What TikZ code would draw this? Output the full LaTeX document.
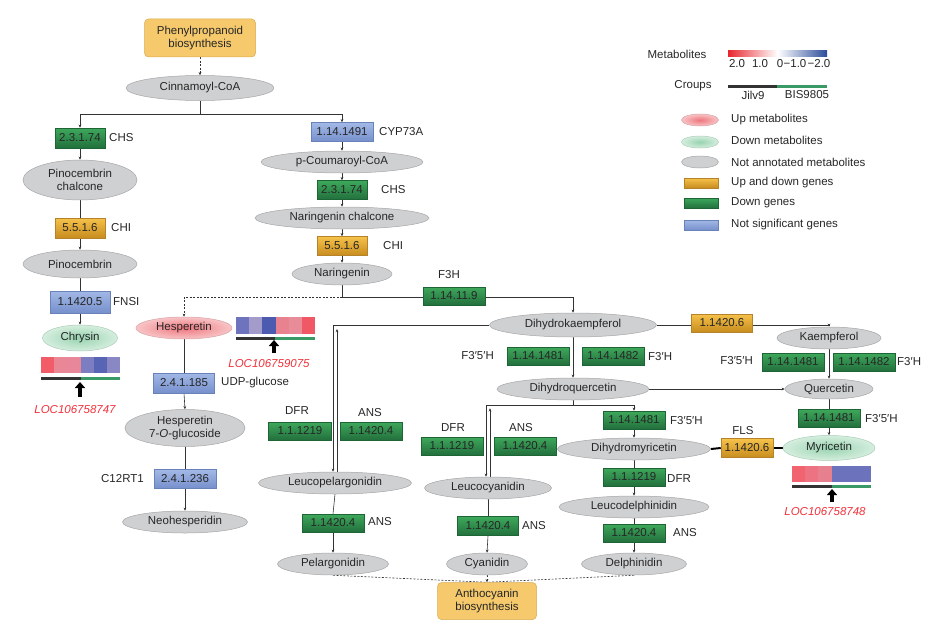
\documentclass[tikz,border=0pt]{standalone}
\usepackage{fontspec}
\setmainfont{Liberation Sans}
\usetikzlibrary{shapes.geometric,arrows.meta,calc}
\pgfdeclarelayer{bg}
\pgfsetlayers{bg,main}
\definecolor{txt}{HTML}{262626}
\definecolor{linec}{HTML}{333333}
\definecolor{metfill}{HTML}{CFD0D2}
\definecolor{metdraw}{HTML}{A6A6A8}
\definecolor{upin}{HTML}{EE767E}
\definecolor{upout}{HTML}{F8C4C6}
\definecolor{updraw}{HTML}{D9A2A4}
\definecolor{dnin}{HTML}{98D3B0}
\definecolor{dnout}{HTML}{D5EEDE}
\definecolor{dndraw}{HTML}{A9CDB7}
\definecolor{ggt}{HTML}{3EA85C}
\definecolor{ggb}{HTML}{22703C}
\definecolor{ggd}{HTML}{1E6535}
\definecolor{ogt}{HTML}{F6C24A}
\definecolor{ogb}{HTML}{C78C1E}
\definecolor{ogd}{HTML}{B5842A}
\definecolor{bgt}{HTML}{A2B8E6}
\definecolor{bgb}{HTML}{7690CC}
\definecolor{bgd}{HTML}{6A82BA}
\definecolor{pfill}{HTML}{F5C96C}
\definecolor{pdraw}{HTML}{D9AA50}
\definecolor{locred}{HTML}{F0303A}
\definecolor{barblack}{HTML}{333333}
\definecolor{bargreen}{HTML}{3A9A66}
\definecolor{scred}{HTML}{E8262E}
\definecolor{scblue}{HTML}{2B4C9A}
\tikzset{
  every node/.style={font=\fontsize{11.5}{13.5}\selectfont, text=txt},
  met/.style={ellipse, draw=metdraw, fill=metfill, inner sep=0pt, line width=0.5pt},
  upm/.style={ellipse, draw=updraw, inner color=upin, outer color=upout, inner sep=0pt, line width=0.5pt},
  dnm/.style={ellipse, draw=dndraw, inner color=dnin, outer color=dnout, inner sep=0pt, line width=0.5pt},
  gene/.style={rectangle, inner sep=0pt, line width=0.5pt},
  ggene/.style={gene, draw=ggd, top color=ggt, bottom color=ggb},
  ogene/.style={gene, draw=ogd, top color=ogt, bottom color=ogb},
  bgene/.style={gene, draw=bgd, top color=bgt, bottom color=bgb},
  pbox/.style={rectangle, rounded corners=4pt, draw=pdraw, fill=pfill, inner sep=0pt, align=center, line width=0.5pt},
  lab/.style={inner sep=0pt},
  loc/.style={inner sep=0pt, text=locred, font=\fontsize{11.5}{13.5}\selectfont\itshape},
  con/.style={draw=linec, line width=0.6pt},
  arr/.style={con, -{Stealth[length=3.2pt,width=2.8pt]}},
  dsh/.style={con, dash pattern=on 2pt off 1.5pt},
  dsharr/.style={dsh, -{Stealth[length=3.2pt,width=2.8pt]}},
  thick con/.style={draw=black, line width=2pt},
  uparrow/.style={draw=black, line width=3.2pt, -{Triangle[length=6pt,width=10pt]}},
}
\begin{document}
\begin{tikzpicture}[x=1pt,y=-1pt]
\useasboundingbox (0,0) rectangle (931,634);

% ---------- top and left chain ----------
\node[pbox, minimum width=111, minimum height=38] (phe) at (200,38) {Phenylpropanoid\\biosynthesis};
\node[met, minimum width=148, minimum height=25] (cin) at (200,88) {Cinnamoyl-CoA};
\node[ggene, minimum width=50, minimum height=20] (chs1) at (80,138) {2.3.1.74};
\node[lab, anchor=west] (chs1l) at (109,138) {CHS};
\node[met, minimum width=114, minimum height=40, align=center] (pcc) at (80,180) {Pinocembrin\\chalcone};
\node[ogene, minimum width=50, minimum height=20] (chi1) at (80,228) {5.5.1.6};
\node[lab, anchor=west] (chi1l) at (111,228) {CHI};
\node[met, minimum width=114, minimum height=28] (pin) at (80,264) {Pinocembrin};
\node[bgene, minimum width=60, minimum height=22] (fnsi) at (80,302) {1.1420.5};
\node[lab, anchor=west] (fnsil) at (113,302) {FNSI};
\node[dnm, minimum width=75, minimum height=26] (chr) at (80,338) {Chrysin};
\node[loc] (loc1) at (75,410) {LOC106758747};

% ---------- central chain ----------
\node[bgene, minimum width=62, minimum height=19] (cyp) at (342,132) {1.14.1491};
\node[lab, anchor=west] (cypl) at (379,132) {CYP73A};
\node[met, minimum width=162, minimum height=22] (pco) at (342,162) {p-Coumaroyl-CoA};
\node[ggene, minimum width=50, minimum height=19] (chs2) at (342,190) {2.3.1.74};
\node[lab, anchor=west] (chs2l) at (381,190) {CHS};
\node[met, minimum width=174, minimum height=22] (nch) at (342,218) {Naringenin chalcone};
\node[ogene, minimum width=50, minimum height=19] (chi2) at (342,246) {5.5.1.6};
\node[lab, anchor=west] (chi2l) at (383,246) {CHI};
\node[met, minimum width=100, minimum height=22] (nar) at (342,274) {Naringenin};
\node[lab] (f3hl) at (449,275) {F3H};
\node[ggene, minimum width=62, minimum height=18] (f3h) at (454,296) {1.14.11.9};

% ---------- hesperetin branch ----------
\node[upm, minimum width=96, minimum height=22] (hes) at (184,328) {Hesperetin};
\node[loc] (loc2) at (269,364) {LOC106759075};
\node[bgene, minimum width=61, minimum height=20] (ugt) at (184,383) {2.4.1.185};
\node[lab, anchor=west] (ugtl) at (221,383) {UDP-glucose};
\node[met, minimum width=120, minimum height=37, align=center] (h7g) at (185,428) {Hesperetin\\7-\textit{O}-glucoside};
\node[lab, anchor=east] (crtl) at (144,479) {C12RT1};
\node[bgene, minimum width=62, minimum height=19] (crt) at (185,479) {2.4.1.236};
\node[met, minimum width=125, minimum height=22] (neo) at (185,522) {Neohesperidin};

% ---------- dihydrokaempferol block ----------
\node[met, minimum width=167, minimum height=24] (dhk) at (573,325) {Dihydrokaempferol};
\node[lab, anchor=east] (f35al) at (494,356) {F3′5′H};
\node[ggene, minimum width=62, minimum height=18] (f35a) at (538,356) {1.14.1481};
\node[ggene, minimum width=62, minimum height=18] (f3a) at (613,356) {1.14.1482};
\node[lab, anchor=west] (f3al) at (648,357) {F3′H};
\node[met, minimum width=152, minimum height=22] (dhq) at (573,389) {Dihydroquercetin};

\node[ogene, minimum width=61, minimum height=18] (fls1) at (722,323) {1.1420.6};
\node[met, minimum width=104, minimum height=22] (kae) at (829,338) {Kaempferol};
\node[lab, anchor=east] (f35bl) at (753,361) {F3′5′H};
\node[ggene, minimum width=62, minimum height=18] (f35b) at (793,362) {1.14.1481};
\node[ggene, minimum width=62, minimum height=18] (f3b) at (864,362) {1.14.1482};
\node[lab, anchor=west] (f3bl) at (897,362) {F3′H};
\node[met, minimum width=88, minimum height=20] (que) at (829,389) {Quercetin};
\node[ggene, minimum width=62, minimum height=18] (f35c) at (829,418) {1.14.1481};
\node[lab, anchor=west] (f35cl) at (865,419) {F3′5′H};
\node[dnm, minimum width=92, minimum height=25] (myr) at (829,448) {Myricetin};
\node[loc] (loc3) at (825,512) {LOC106758748};
\node[lab] (flsl) at (743,431) {FLS};
\node[ogene, minimum width=52, minimum height=19] (fls2) at (747,448) {1.1420.6};

% ---------- delphinidin chain ----------
\node[ggene, minimum width=62, minimum height=18] (f35d) at (634,420) {1.14.1481};
\node[lab, anchor=west] (f35dl) at (670,421) {F3′5′H};
\node[met, minimum width=153, minimum height=22] (dhm) at (634,449) {Dihydromyricetin};
\node[ggene, minimum width=62, minimum height=18] (dfr3) at (634,477) {1.1.1219};
\node[lab, anchor=west] (dfr3l) at (667,479) {DFR};
\node[met, minimum width=150, minimum height=22] (ldp) at (634,507) {Leucodelphinidin};
\node[ggene, minimum width=62, minimum height=18] (ans3) at (634,533) {1.1420.4};
\node[lab, anchor=west] (ans3l) at (673,533) {ANS};
\node[met, minimum width=105, minimum height=22] (del) at (634,564) {Delphinidin};

% ---------- pelargonidin chain ----------
\node[lab] (dfr1l) at (297,411) {DFR};
\node[ggene, minimum width=63, minimum height=18] (dfr1) at (300,431) {1.1.1219};
\node[lab] (ans1l) at (370,413) {ANS};
\node[ggene, minimum width=62, minimum height=18] (ans1) at (371,431) {1.1420.4};
\node[met, minimum width=153, minimum height=22] (lpg) at (335,483) {Leucopelargonidin};
\node[ggene, minimum width=62, minimum height=18] (ans1b) at (333,523) {1.1420.4};
\node[lab, anchor=west] (ans1bl) at (368,522) {ANS};
\node[met, minimum width=111, minimum height=22] (pel) at (333,564) {Pelargonidin};

% ---------- cyanidin chain ----------
\node[lab] (dfr2l) at (453,428) {DFR};
\node[ggene, minimum width=62, minimum height=18] (dfr2) at (452,446) {1.1.1219};
\node[lab] (ans2l) at (521,428) {ANS};
\node[ggene, minimum width=62, minimum height=18] (ans2) at (525,446) {1.1420.4};
\node[met, minimum width=127, minimum height=22] (lcy) at (488,488) {Leucocyanidin};
\node[ggene, minimum width=61, minimum height=19] (ans2b) at (488,526) {1.1420.4};
\node[lab, anchor=west] (ans2bl) at (522,526) {ANS};
\node[met, minimum width=81, minimum height=22] (cya) at (487,564) {Cyanidin};
\node[pbox, minimum width=99, minimum height=37] (ant) at (487,601) {Anthocyanin\\biosynthesis};

% ---------- connectors ----------
\begin{pgfonlayer}{bg}
\draw[dsharr] (phe.south) -- (cin.north);
\draw[con] (cin.south) -- ++(0,14) coordinate (cinb);
\draw[arr] (cinb) -| (chs1.north);
\draw[arr] (cinb) -| (cyp.north);
\draw[arr] (chs1.south) -- (pcc.north);
\draw[con] (pcc.south) -- (chi1.north);
\draw[arr] (chi1.south) -- (pin.north);
\draw[con] (pin.south) -- (fnsi.north);
\draw[arr] (fnsi.south) -- (chr.north);

\draw[arr] (cyp.south) -- (pco.north);
\draw[arr] (pco.south) -- (chs2.north);
\draw[arr] (chs2.south) -- (nch.north);
\draw[arr] (nch.south) -- (chi2.north);
\draw[arr] (chi2.south) -- (nar.north);
\draw[con] (nar.south) -- ++(0,12) coordinate (narb);
\draw[arr] (narb) -| (dhk.north);
\draw[dsharr] (narb) -| (hes.north);

\draw[con] (hes.south) -- (ugt.north);
\draw[arr] (ugt.south) -- (h7g.north);
\draw[con] (h7g.south) -- (crt.north);
\draw[arr] (crt.south) -- (neo.north);

\draw[arr] (dhk.south) -- (dhq.north);
\draw[arr] (dhk.east) -| (kae.north);
\draw[arr] (dhq.east) -- (que.west);
\draw[arr] (kae.south) -- (que.north);
\draw[con] (que.south) -- (f35c.north);
\draw[arr] (f35c.south) -- (myr.north);
\draw[thick con] (dhm.east) -- (fls2.west);
\draw[thick con] (fls2.east) -- (myr.west);

\draw[arr] (dhk.west) -| ($(lpg.north)+(-2,0)$);
\draw[arr] ($(lpg.north)+(2,0)$) -- ($(lpg.north |- dhk.west)+(2,4)$);
\draw[con] (lpg.south) -- (ans1b.north);
\draw[arr] (ans1b.south) -- (pel.north);

\draw[con] (dhq.south) -- ++(0,5) coordinate (dhqb);
\draw[arr] (dhqb) -| (f35d.north);
\draw[arr] (dhqb) -| ($(lcy.north)+(-2,0)$);
\draw[arr] ($(lcy.north)+(2,0)$) -- ($(lcy.north |- dhqb)+(2,3)$);
\draw[con] (lcy.south) -- (ans2b.north);
\draw[arr] (ans2b.south) -- (cya.north);

\draw[arr] (f35d.south) -- (dhm.north);
\draw[con] (dhm.south) -- (dfr3.north);
\draw[arr] (dfr3.south) -- (ldp.north);
\draw[con] (ldp.south) -- (ans3.north);
\draw[arr] (ans3.south) -- (del.north);

\draw[dsh] (pel.south) -- (ant.north);
\draw[dsh] (del.south) -- (ant.north);
\draw[dsharr] (cya.south) -- (ant.north);
\end{pgfonlayer}

% ---------- heatmaps ----------
\foreach \c [count=\i from 0] in {F25B68,EA8796,E8879A,7D7EC2,5865B4,8A87C5}{
  \definecolor{hc}{HTML}{\c}\fill[hc] ({41+\i*13.17},357) rectangle ({41+(\i+1)*13.17},373);}
\draw[barblack, line width=3pt] (41,378) -- (80.5,378);
\draw[bargreen, line width=3pt] (80.5,378) -- (120,378);
\draw[uparrow] (80,397) -- (80,382);

\foreach \c [count=\i from 0] in {6D73BC,A39CCB,4C5BB0,E8828F,E98C9A,EF5864}{
  \definecolor{hc}{HTML}{\c}\fill[hc] ({236+\i*13.17},317) rectangle ({236+(\i+1)*13.17},334);}
\draw[barblack, line width=3pt] (236,338) -- (275,338);
\draw[bargreen, line width=3pt] (275,338) -- (315,338);
\draw[uparrow] (274,353) -- (274,340);

\foreach \c [count=\i from 0] in {F0636F,EE7382,E7808E,6C73BC,6C73BC,6C73BC}{
  \definecolor{hc}{HTML}{\c}\fill[hc] ({792+\i*13.17},466) rectangle ({792+(\i+1)*13.17},482);}
\draw[barblack, line width=3pt] (792,486) -- (831.5,486);
\draw[bargreen, line width=3pt] (831.5,486) -- (871,486);
\draw[uparrow] (832,502) -- (832,489);

% ---------- legend ----------
\node[lab] (lgm) at (677,54) {Metabolites};
\fill[left color=scred, right color=scblue, middle color=white] (728,51) rectangle (827,57);
\node[lab] (s1) at (737,64) {2.0};
\node[lab] (s2) at (760,64) {1.0};
\node[lab] (s3) at (780,64) {0};
\node[lab] (s4) at (795,64) {−1.0};
\node[lab] (s5) at (819,64) {−2.0};
\node[lab] (lgc) at (693,86) {Croups};
\draw[barblack, line width=3pt] (728,86) -- (777,86);
\draw[bargreen, line width=3pt] (777,86) -- (827,86);
\node[lab] (lgj) at (753,95) {Jilv9};
\node[lab] (lgb) at (807,95) {BIS9805};
\node[upm, minimum width=37, minimum height=12] (le1) at (700,120) {};
\node[dnm, minimum width=37, minimum height=12] (le2) at (700,142) {};
\node[met, minimum width=37, minimum height=12] (le3) at (700,162) {};
\node[ogene, minimum width=34, minimum height=10] (le4) at (701,183) {};
\node[ggene, minimum width=34, minimum height=10] (le5) at (701,203) {};
\node[bgene, minimum width=34, minimum height=10] (le6) at (701,225) {};
\node[lab, anchor=west] (lt1) at (731,120) {Up metabolites};
\node[lab, anchor=west] (lt2) at (731,140) {Down metabolites};
\node[lab, anchor=west] (lt3) at (731,162) {Not annotated metabolites};
\node[lab, anchor=west] (lt4) at (731,183) {Up and down genes};
\node[lab, anchor=west] (lt5) at (731,203) {Down genes};
\node[lab, anchor=west] (lt6) at (731,225) {Not significant genes};
\end{tikzpicture}
\end{document}
